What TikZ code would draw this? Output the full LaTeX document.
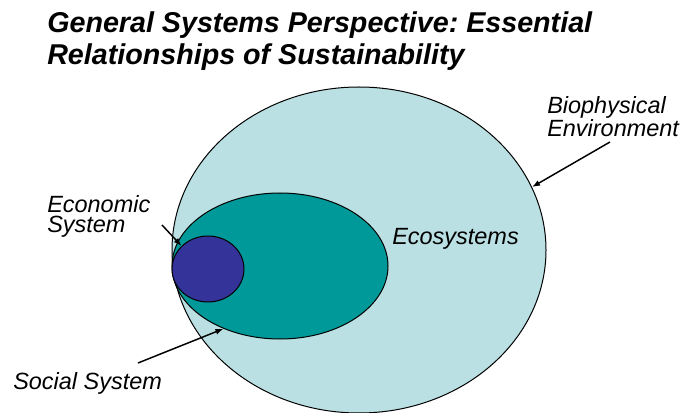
\documentclass[tikz,border=0pt]{standalone}
\usepackage{fontspec}
\setmainfont{Liberation Sans}
\usetikzlibrary{shapes.geometric,arrows.meta}

\definecolor{bioFill}{RGB}{186,224,227}
\definecolor{ecoFill}{RGB}{0,153,153}
\definecolor{econFill}{RGB}{51,51,153}

\tikzset{
    sphere/.style={ellipse, draw=black, line width=0.75pt, inner sep=0pt},
    lbl/.style={inner sep=0pt, align=left, anchor=base west, font=\fontsize{17.6}{17.6}\selectfont\itshape},
    pointer/.style={-{Latex[length=6pt,width=4.5pt]}, line width=1.1pt}
}

\begin{document}
\frenchspacing
\begin{tikzpicture}[x=0.75pt, y=-0.75pt]
    \useasboundingbox (0,0) rectangle (685,413);

    % Title (base anchor sits on the last line)
    \node[anchor=base west, inner sep=0pt, align=left,
          font=\fontsize{21.5}{24.5}\selectfont\bfseries\itshape] (title) at (47,65)
        {General Systems Perspective: Essential\\Relationships of Sustainability};

    % Nested systems
    \node[sphere, fill=bioFill, minimum width=280.5pt, minimum height=244.5pt] (bio) at (359,250) {};
    \node[sphere, fill=ecoFill, minimum width=162pt, minimum height=109.5pt] (eco) at (280,266) {};
    \node[sphere, fill=econFill, minimum width=54pt, minimum height=49.5pt] (econ) at (208,269) {};

    % Labels
    \node[lbl] (biolbl) at (547,137) {Biophysical\\Environment};
    \node[lbl] (ecolbl) at (392,245) {Ecosystems};
    \node[lbl, font=\fontsize{17.6}{15.5}\selectfont\itshape] (econlbl) at (47,233) {Economic\\System};
    \node[lbl] (soclbl) at (13,389) {Social System};

    % Pointers
    \coordinate (biotail) at (610,142);
    \coordinate (econtail) at (162,225);
    \coordinate (soctail) at (138,363);
    \draw[pointer] (biotail) -- (bio.20);
    \draw[pointer] (econtail) -- (econ.139);
    \draw[pointer] (soctail) -- (eco.228);
\end{tikzpicture}
\end{document}
